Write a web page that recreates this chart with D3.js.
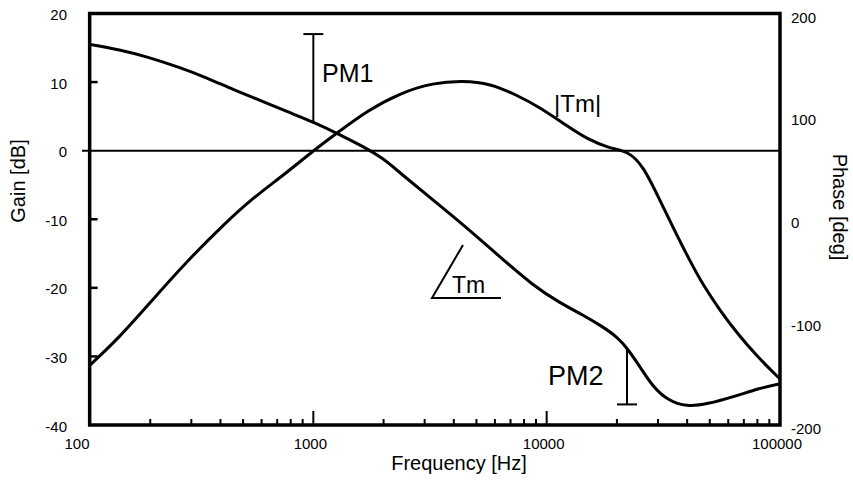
<!DOCTYPE html>
<html>
<head>
<meta charset="utf-8">
<script src="https://cdn.jsdelivr.net/npm/d3@7"></script>
<style>
  body { margin: 0; background: #fff; }
  svg { display: block; }
  text { font-family: "Liberation Sans", Arial, Helvetica, sans-serif; fill: #000; }
</style>
</head>
<body>
<svg id="chart" width="853" height="480"></svg>
<script>
// Loop transfer |Tm| (gain, dB) and its phase (deg) against frequency (Hz)
const gainFreq = [110, 146, 204, 282, 418, 546, 756, 1000, 1301, 1699, 2352, 3260, 4383, 5718, 7462, 9370, 12230, 14890, 18700, 22100, 25880, 30620, 36230, 41170, 46810, 55350, 65470, 79760, 100000];
const gainDb   = [-31.3, -27.4, -21.8, -16.4, -10.6, -7.0, -3.4, 0, 2.9, 5.8, 8.4, 9.9, 10.2, 9.8, 8.1, 6.3, 3.6, 1.7, 0.3, 0, -2.1, -7.3, -12.4, -16.1, -19.6, -23.3, -26.6, -30.0, -33.3];

const phaseFreq = [110, 148, 194, 268, 350, 453, 591, 771, 1000, 1301, 1585, 1990, 2352, 3260, 4559, 6310, 8744, 11410, 14320, 17450, 20030, 22100, 25140, 28580, 32810, 39990, 48700, 62950, 82170, 100000];
const phaseDeg  = [170, 164.8, 158, 147.5, 137.5, 126, 115.6, 104.6, 94.5, 82.2, 72.2, 59.5, 45, 18.7, -8.5, -36.7, -64.5, -81.4, -93.1, -104.7, -114.4, -125, -143.6, -163, -175.7, -182.5, -179.6, -172.7, -164, -160];

const decadeTicks  = [100, 1000, 10000, 100000];
const decadeLabels = ["100", "1000", "10000", "100000"];
const gainTicks  = [-40, -30, -20, -10, 0, 10, 20];
const phaseTicks = [-200, -100, 0, 100, 200];

// Phase-margin markers: gain-crossover frequencies and the ±180° reference
const pmFreqs  = [1000, 22100];
const pmLimits = [180, -180];
const pmNames  = ["PM1", "PM2"];

const svg = d3.select("#chart");
const x  = d3.scaleLog().domain([100, 100000]).range([80, 780]);
const yG = d3.scaleLinear().domain([-40, 20]).range([425, 13.5]);
const yP = d3.scaleLinear().domain([-200, 200]).range([425, 13.5]);

const plotLeft = x(gainFreq[0]), plotRight = x(100000), plotTop = yG(20), plotBottom = yG(-40);

const gainData  = gainFreq.map((f, i) => ({ f, v: gainDb[i] }));
const phaseData = phaseFreq.map((f, i) => ({ f, v: phaseDeg[i] }));

// zero-dB reference line (extends a little past the left axis)
svg.append("line")
  .attr("x1", 82).attr("x2", plotRight)
  .attr("y1", yG(0)).attr("y2", yG(0))
  .attr("stroke", "#000").attr("stroke-width", 2);

// inward gain ticks on the left axis
svg.append("g").selectAll("line")
  .data(gainTicks.filter(t => t > -40 && t < 20 && t !== 0))
  .join("line")
  .attr("x1", plotLeft).attr("x2", plotLeft + 8)
  .attr("y1", d => yG(d)).attr("y2", d => yG(d))
  .attr("stroke", "#000").attr("stroke-width", 2.5);

// frequency ticks on the bottom axis: decades long, intermediates short
const minor = [];
decadeTicks.slice(0, -1).forEach(d => { for (let k = 2; k <= 9; k++) minor.push(d * k); });
svg.append("g").selectAll("line")
  .data(minor.filter(f => x(f) > plotLeft + 2))
  .join("line")
  .attr("x1", d => x(d)).attr("x2", d => x(d))
  .attr("y1", plotBottom).attr("y2", plotBottom - 6)
  .attr("stroke", "#000").attr("stroke-width", 2);
svg.append("g").selectAll("line")
  .data(decadeTicks.slice(1, -1))
  .join("line")
  .attr("x1", d => x(d)).attr("x2", d => x(d))
  .attr("y1", plotBottom).attr("y2", plotBottom - 14)
  .attr("stroke", "#000").attr("stroke-width", 2);

// frame
svg.append("rect")
  .attr("x", plotLeft).attr("y", plotTop)
  .attr("width", plotRight - plotLeft).attr("height", plotBottom - plotTop)
  .attr("fill", "none").attr("stroke", "#000").attr("stroke-width", 3.5);

// curves (B-spline through the sampled points)
const line = d3.line().curve(d3.curveBasis).x(d => x(d.f));
svg.append("path").datum(gainData)
  .attr("d", line.y(d => yG(d.v)))
  .attr("fill", "none").attr("stroke", "#000").attr("stroke-width", 3)
  .attr("stroke-linejoin", "round");
svg.append("path").datum(phaseData)
  .attr("d", line.y(d => yP(d.v)))
  .attr("fill", "none").attr("stroke", "#000").attr("stroke-width", 3)
  .attr("stroke-linejoin", "round");

// phase-margin bars
pmFreqs.forEach((f, i) => {
  const px = x(f);
  const p0 = phaseDeg[phaseFreq.indexOf(f)];
  const g = svg.append("g").attr("stroke", "#000").attr("stroke-width", 2);
  g.append("line").attr("x1", px).attr("x2", px)
    .attr("y1", yP(p0)).attr("y2", yP(pmLimits[i]));
  g.append("line").attr("x1", px - 10).attr("x2", px + 10)
    .attr("y1", yP(pmLimits[i])).attr("y2", yP(pmLimits[i]));
});

// tick labels
svg.append("g").selectAll("text").data(gainTicks).join("text")
  .attr("x", 67).attr("y", d => yG(d) + 6.5)
  .attr("text-anchor", "end").attr("font-size", 15)
  .text(d => d);
svg.append("g").selectAll("text").data(phaseTicks).join("text")
  .attr("x", 791).attr("y", d => yP(d) + 9)
  .attr("font-size", 15)
  .text(d => d);
svg.append("g").selectAll("text").data(decadeTicks).join("text")
  .attr("x", d => x(d) - 3).attr("y", 449)
  .attr("text-anchor", "middle").attr("font-size", 15)
  .text((d, i) => decadeLabels[i]);

// axis titles
svg.append("text")
  .attr("transform", "translate(25,181) rotate(-90)")
  .attr("text-anchor", "middle").attr("font-size", 20)
  .text("Gain [dB]");
svg.append("text")
  .attr("transform", "translate(833,207) rotate(90)")
  .attr("text-anchor", "middle").attr("font-size", 20)
  .text("Phase [deg]");
svg.append("text")
  .attr("x", 459).attr("y", 470)
  .attr("text-anchor", "middle").attr("font-size", 20)
  .text("Frequency [Hz]");

// annotations
svg.append("text").attr("x", 322).attr("y", 82).attr("font-size", 25).text(pmNames[0]);
svg.append("text").attr("x", 548).attr("y", 385).attr("font-size", 27).text(pmNames[1]);
svg.append("text").attr("x", 554).attr("y", 112).attr("font-size", 24).text("|Tm|");

// angle symbol for the phase of Tm
svg.append("path")
  .attr("d", "M463,245 L432,298 L501,298")
  .attr("fill", "none").attr("stroke", "#000").attr("stroke-width", 2);
svg.append("text").attr("x", 452).attr("y", 293).attr("font-size", 23).text("Tm");
</script>
</body>
</html>
